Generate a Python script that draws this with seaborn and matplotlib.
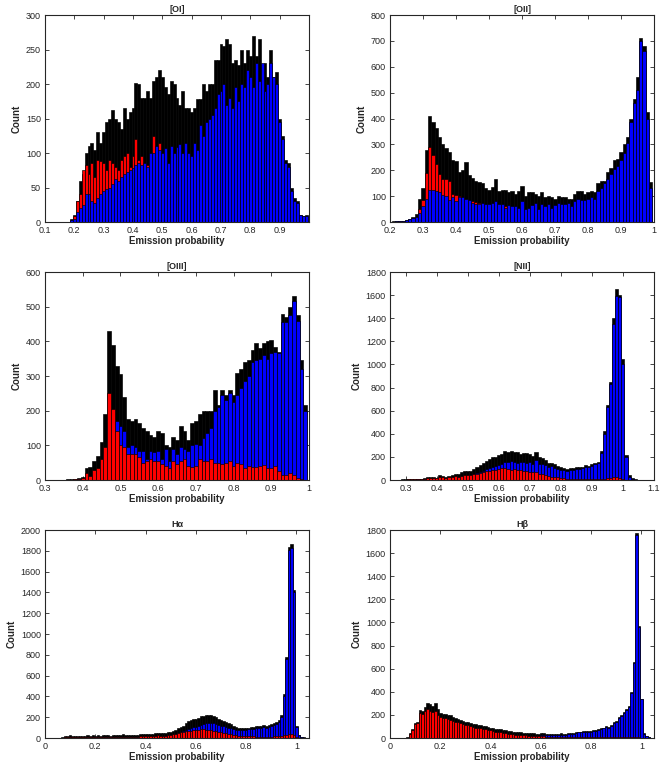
import numpy as np
import pandas as pd
import matplotlib
matplotlib.use("Agg")
import matplotlib.pyplot as plt
import seaborn as sns

sns.set_style("ticks")
plt.rcParams['font.family'] = ['Liberation Sans', 'DejaVu Sans']

# ---------------- data (bin centres every 0.01) ----------------
oi_start = 0.19
oi_black = [5, 10, 30, 60, 70, 100, 110, 115, 105, 130, 115, 130, 145, 150, 163, 150, 145, 135, 165, 150,
            160, 165, 202, 200, 180, 180, 190, 180, 205, 210, 220, 210, 195, 185, 205, 200, 180, 170, 190, 165,
            165, 160, 165, 178, 178, 200, 190, 200, 200, 235, 235, 258, 255, 265, 258, 230, 235, 228, 250, 230,
            250, 240, 270, 240, 265, 228, 230, 210, 250, 210, 218, 150, 125, 90, 85, 50, 35, 30, 10, 8, 10]
oi_blue = [3, 5, 15, 20, 25, 40, 40, 30, 28, 35, 40, 45, 48, 50, 55, 62, 60, 65, 70, 72,
           75, 78, 82, 85, 83, 85, 80, 100, 100, 110, 105, 100, 107, 85, 110, 100, 108, 113, 100, 115,
           100, 95, 115, 105, 140, 125, 145, 150, 155, 165, 185, 190, 200, 170, 180, 165, 195, 175, 200, 195,
           220, 210, 195, 230, 205, 230, 190, 200, 230, 210, 200, 145, 120, 85, 80, 45, 30, 28, 10, 8, 8]
oi_red = [2, 8, 30, 40, 75, 83, 70, 85, 65, 90, 88, 85, 75, 90, 85, 80, 75, 90, 95, 100,
          80, 95, 120, 90, 95, 85, 82, 90, 125, 100, 115, 100, 80, 75, 70, 70, 65, 60, 60, 55,
          55, 50, 50, 50, 50, 50, 45, 45, 45, 45, 40, 45, 40, 40, 40, 40, 35, 35, 35, 35,
          30, 30, 30, 30, 25, 25, 25, 20, 20, 20, 15, 10, 8, 5, 5, 3, 2, 2, 1, 1, 1]

oii_start = 0.21
oii_black = [2, 3, 5, 5, 8, 12, 20, 30, 90, 130, 280, 410, 385, 365, 330, 300, 285, 270, 240, 235,
             195, 200, 230, 180, 170, 160, 155, 150, 130, 125, 135, 165, 120, 125, 125, 115, 120, 110, 120, 140,
             100, 115, 115, 110, 100, 115, 95, 100, 95, 90, 100, 95, 95, 90, 90, 110, 120, 120, 110, 115,
             120, 115, 150, 160, 160, 195, 210, 240, 245, 270, 300, 330, 400, 475, 560, 710, 680, 425, 155]
oii_blue = [1, 2, 3, 4, 6, 10, 15, 20, 35, 60, 90, 125, 125, 120, 115, 105, 100, 85, 95, 80,
            95, 95, 90, 85, 75, 70, 70, 72, 70, 70, 75, 80, 70, 70, 55, 65, 60, 60, 55, 80,
            50, 55, 65, 75, 50, 70, 60, 70, 55, 65, 75, 70, 70, 75, 60, 80, 90, 85, 85, 90,
            95, 90, 120, 130, 150, 165, 185, 205, 215, 240, 265, 305, 385, 460, 510, 700, 660, 400, 130]
oii_red = [1, 1, 3, 3, 5, 8, 12, 20, 50, 85, 190, 290, 260, 225, 185, 165, 165, 160, 110, 105,
           100, 85, 80, 75, 80, 78, 75, 65, 60, 55, 55, 55, 50, 50, 60, 45, 40, 40, 40, 35,
           35, 35, 30, 30, 30, 30, 30, 25, 25, 25, 25, 20, 20, 20, 20, 20, 20, 20, 20, 20,
           20, 20, 15, 15, 15, 15, 15, 15, 15, 15, 15, 15, 15, 15, 15, 10, 10, 10, 5]

oiii_start = 0.35
oiii_black = [1, 2, 2, 4, 6, 10, 35, 37, 55, 70, 110, 190, 430, 390, 330, 305, 240, 175, 170, 175,
              165, 150, 140, 130, 125, 140, 135, 100, 95, 125, 115, 155, 140, 115, 165, 170, 190, 200, 200, 200,
              260, 215, 260, 245, 260, 245, 310, 320, 340, 345, 375, 395, 380, 395, 400, 405, 385, 370, 480, 470,
              500, 530, 475, 345, 215]
oiii_red = [0, 0, 1, 2, 3, 5, 20, 12, 30, 35, 60, 95, 250, 205, 140, 100, 95, 75, 75, 75,
            65, 50, 55, 60, 55, 55, 45, 40, 35, 55, 45, 55, 60, 40, 38, 40, 60, 55, 55, 60,
            50, 48, 45, 50, 55, 40, 50, 45, 35, 40, 38, 38, 40, 42, 35, 35, 40, 25, 15, 15,
            20, 15, 5, 3, 1]
oiii_blue = [0, 0, 1, 1, 2, 4, 10, 10, 20, 25, 45, 80, 160, 165, 170, 155, 140, 95, 100, 95,
             85, 85, 60, 85, 80, 85, 60, 90, 55, 90, 75, 95, 90, 85, 100, 105, 100, 120, 135, 150,
             200, 210, 245, 230, 250, 225, 245, 265, 285, 300, 340, 345, 350, 360, 350, 365, 370, 365, 455, 455,
             475, 515, 460, 320, 200]

nii_start = 0.27
nii_black = [3, 4, 5, 5, 8, 8, 10, 12, 10, 15, 22, 25, 25, 20, 40, 35, 30, 35, 45, 55,
             50, 65, 75, 75, 80, 95, 110, 130, 150, 165, 185, 195, 200, 215, 225, 250, 245, 250, 245, 240,
             225, 230, 235, 225, 210, 245, 200, 190, 175, 150, 145, 135, 125, 110, 100, 95, 100, 105, 110, 110,
             115, 130, 125, 135, 150, 160, 250, 420, 650, 850, 1400, 1650, 1600, 1050, 220, 40, 15, 5]
nii_blue = [1, 1, 2, 2, 3, 3, 4, 5, 4, 6, 8, 10, 10, 8, 15, 14, 12, 15, 20, 25,
            22, 30, 35, 38, 40, 50, 60, 70, 80, 95, 105, 115, 125, 130, 140, 160, 155, 165, 160, 150,
            160, 155, 150, 160, 140, 175, 135, 140, 130, 110, 120, 100, 95, 90, 85, 80, 85, 90, 95, 95,
            100, 110, 115, 125, 140, 150, 235, 400, 630, 830, 1350, 1590, 1580, 1000, 200, 30, 10, 3]
nii_red = [2, 3, 3, 3, 5, 5, 6, 7, 6, 10, 15, 18, 18, 15, 25, 22, 20, 22, 28, 32,
           30, 38, 42, 45, 45, 50, 55, 60, 65, 75, 80, 85, 90, 95, 100, 100, 95, 90, 95, 90,
           85, 80, 75, 70, 65, 70, 55, 50, 40, 35, 30, 25, 22, 20, 15, 12, 12, 10, 10, 8,
           8, 8, 8, 8, 8, 10, 10, 12, 15, 20, 25, 25, 15, 8, 3, 1, 0, 0]

ha_start = 0.07
ha_black = [5, 15, 20, 25, 20, 20, 22, 20, 20, 22, 25, 20, 25, 22, 25, 20, 25, 28, 25, 22,
            28, 25, 25, 30, 35, 30, 30, 28, 30, 32, 30, 35, 38, 40, 38, 35, 40, 45, 50, 45,
            45, 45, 55, 60, 70, 80, 95, 110, 120, 140, 160, 170, 180, 185, 195, 210, 215, 225, 225, 220,
            215, 200, 185, 175, 165, 150, 140, 130, 115, 105, 100, 95, 100, 95, 100, 105, 110, 115, 120, 115,
            125, 120, 125, 130, 140, 150, 170, 220, 420, 780, 1840, 1870, 1425, 120, 30, 10, 5, 3]
ha_blue = [1, 3, 4, 5, 4, 4, 5, 4, 4, 5, 5, 4, 5, 5, 5, 4, 5, 6, 5, 5,
           6, 5, 5, 6, 8, 6, 6, 6, 7, 7, 7, 8, 9, 10, 10, 9, 10, 12, 14, 13,
           14, 15, 20, 25, 30, 35, 45, 55, 65, 75, 90, 95, 105, 110, 115, 125, 130, 140, 140, 145,
           140, 130, 125, 120, 115, 105, 100, 95, 85, 80, 78, 75, 80, 78, 82, 88, 90, 95, 100, 95,
           105, 100, 108, 115, 125, 135, 155, 205, 400, 760, 1810, 1830, 1400, 105, 25, 8, 4, 2]
ha_red = [1, 5, 8, 10, 8, 8, 10, 8, 8, 10, 10, 8, 10, 10, 10, 8, 10, 12, 10, 10,
          12, 10, 10, 12, 14, 12, 12, 12, 13, 14, 13, 15, 16, 18, 16, 15, 18, 20, 25, 22,
          22, 22, 28, 30, 35, 40, 45, 55, 60, 65, 70, 72, 75, 75, 80, 85, 82, 80, 78, 75,
          72, 65, 60, 55, 50, 45, 40, 35, 30, 25, 22, 20, 18, 17, 16, 15, 15, 14, 14, 13,
          13, 13, 13, 14, 15, 15, 18, 20, 25, 30, 35, 35, 25, 5, 2, 1, 0, 0]

hb_start = 0.07
hb_black = [5, 40, 75, 130, 140, 240, 235, 265, 300, 295, 280, 300, 250, 215, 210, 205, 200, 195, 180, 170,
            165, 160, 150, 140, 140, 130, 125, 120, 115, 110, 105, 100, 95, 90, 85, 80, 78, 75, 70, 65,
            60, 58, 55, 55, 50, 48, 45, 45, 42, 40, 40, 38, 35, 40, 45, 38, 35, 35, 38, 35,
            35, 40, 35, 38, 40, 45, 45, 50, 55, 55, 60, 60, 60, 60, 65, 70, 80, 85, 90, 100,
            95, 110, 140, 150, 180, 200, 225, 250, 280, 400, 660, 1770, 970, 340, 40, 15, 5, 2]
hb_red = [3, 35, 70, 125, 130, 215, 210, 235, 255, 230, 225, 235, 200, 180, 175, 170, 165, 160, 150, 140,
          135, 130, 120, 110, 110, 100, 95, 90, 88, 85, 80, 75, 70, 65, 60, 55, 52, 50, 45, 40,
          38, 35, 32, 30, 28, 25, 22, 22, 20, 18, 17, 15, 14, 14, 15, 12, 10, 10, 10, 9,
          8, 8, 7, 7, 7, 6, 6, 6, 6, 5, 5, 5, 5, 5, 5, 5, 5, 5, 5, 5,
          5, 5, 5, 5, 5, 6, 6, 6, 7, 8, 10, 12, 8, 4, 1, 0, 0, 0]
hb_blue = [1, 3, 4, 5, 6, 10, 10, 12, 14, 14, 14, 15, 14, 12, 12, 12, 12, 12, 11, 11,
           11, 11, 11, 11, 11, 11, 11, 11, 11, 11, 11, 11, 11, 11, 12, 12, 12, 12, 12, 13,
           13, 14, 14, 15, 15, 16, 17, 18, 18, 19, 20, 20, 20, 25, 30, 25, 24, 25, 28, 26,
           27, 30, 28, 30, 32, 38, 38, 42, 48, 48, 52, 52, 53, 53, 58, 63, 72, 78, 83, 92,
           88, 102, 130, 140, 170, 190, 215, 240, 270, 390, 650, 1755, 960, 335, 38, 14, 5, 2]

panels = [
    dict(title="[OI]", start=oi_start, black=oi_black, red=oi_red, blue=oi_blue, red_top=False,
         xlim=(0.1, 1.0), xticks=[0.1, 0.2, 0.3, 0.4, 0.5, 0.6, 0.7, 0.8, 0.9],
         ylim=(0, 300), yticks=np.arange(0, 301, 50)),
    dict(title="[OII]", start=oii_start, black=oii_black, red=oii_red, blue=oii_blue, red_top=False,
         xlim=(0.2, 1.0), xticks=[0.2, 0.3, 0.4, 0.5, 0.6, 0.7, 0.8, 0.9, 1.0],
         ylim=(0, 800), yticks=np.arange(0, 801, 100)),
    dict(title="[OIII]", start=oiii_start, black=oiii_black, red=oiii_red, blue=oiii_blue, red_top=True,
         xlim=(0.3, 1.0), xticks=[0.3, 0.4, 0.5, 0.6, 0.7, 0.8, 0.9, 1.0],
         ylim=(0, 600), yticks=np.arange(0, 601, 100)),
    dict(title="[NII]", start=nii_start, black=nii_black, red=nii_red, blue=nii_blue, red_top=True,
         xlim=(0.25, 1.1), xticks=[0.3, 0.4, 0.5, 0.6, 0.7, 0.8, 0.9, 1.0, 1.1],
         ylim=(0, 1800), yticks=np.arange(0, 1801, 200)),
    dict(title="H\u03b1", start=ha_start, black=ha_black, red=ha_red, blue=ha_blue, red_top=True,
         xlim=(0, 1.05), xticks=[0, 0.2, 0.4, 0.6, 0.8, 1.0],
         ylim=(0, 2000), yticks=np.arange(0, 2001, 200)),
    dict(title="H\u03b2", start=hb_start, black=hb_black, red=hb_red, blue=hb_blue, red_top=True,
         xlim=(0, 1.05), xticks=[0, 0.2, 0.4, 0.6, 0.8, 1.0],
         ylim=(0, 1800), yticks=np.arange(0, 1801, 200)),
]

W, H = 667, 765
fig = plt.figure(figsize=(W / 100, H / 100), dpi=100)

# axes boxes in pixels: (left, top, right, bottom)
boxes = [(45, 15, 309, 222), (390, 15, 654, 222),
         (45, 272, 309, 480), (390, 272, 654, 480),
         (45, 530, 309, 738), (390, 530, 654, 738)]


def fmt(v):
    if abs(v - round(v)) < 1e-9:
        return str(int(round(v)))
    return f"{v:.1f}"


for p, (l, t, r, b) in zip(panels, boxes):
    ax = fig.add_axes([l / W, 1 - b / H, (r - l) / W, (b - t) / H])
    n = len(p["black"])
    centers = p["start"] + 0.01 * np.arange(n)
    edges = [float(e) for e in np.append(centers - 0.005, centers[-1] + 0.005)]
    order = [("black", p["black"])]
    if p["red_top"]:
        order += [("#0000ff", p["blue"]), ("#ff0000", p["red"])]
    else:
        order += [("#ff0000", p["red"]), ("#0000ff", p["blue"])]
    for col, vals in order:
        df = pd.DataFrame({"prob": centers, "count": np.asarray(vals, dtype=float)})
        sns.histplot(data=df, x="prob", weights="count", bins=edges, color=col,
                     edgecolor="black", linewidth=0.45, alpha=1, ax=ax)
    ax.set_xlim(*p["xlim"])
    ax.set_ylim(*p["ylim"])
    ax.set_xticks(p["xticks"])
    ax.set_xticklabels([fmt(v) for v in p["xticks"]])
    ax.set_yticks(p["yticks"])
    ax.tick_params(direction="in", top=True, right=True, length=3, width=0.6,
                   labelsize=6.5)
    ax.tick_params(axis="x", pad=3)
    ax.tick_params(axis="y", pad=3)
    for s in ax.spines.values():
        s.set_linewidth(0.8)
        s.set_visible(True)
    ax.set_title(p["title"], fontsize=6.5, fontweight="bold", pad=2.5)
    ax.set_xlabel("Emission probability", fontsize=7, fontweight="bold", labelpad=0.5)
    ax.set_ylabel("Count", fontsize=7, fontweight="bold", labelpad=3)

fig.savefig("out.png", dpi=100)
